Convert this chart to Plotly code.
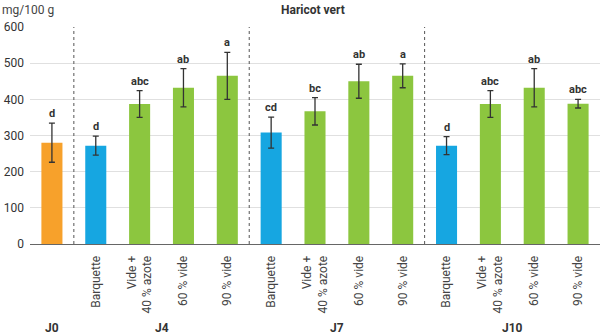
import plotly.graph_objects as go

categories = ["", "Barquette", "Vide +<br>40 % azote", "60 % vide", "90 % vide",
              "Barquette", "Vide +<br>40 % azote", "60 % vide", "90 % vide",
              "Barquette", "Vide +<br>40 % azote", "60 % vide", "90 % vide"]
values = [280, 272, 387, 432, 465, 308, 367, 450, 465, 272, 387, 432, 388]
errors = [54, 26, 37, 53, 65, 43, 38, 47, 33, 25, 37, 53, 12]
letters = ["d", "d", "abc", "ab", "a", "cd", "bc", "ab", "a", "d", "abc", "ab", "abc"]
kinds = ["J0", "B", "G", "G", "G", "B", "G", "G", "G", "B", "G", "G", "G"]
groups = ["J0", "J4", "J7", "J10"]
group_pos = [0, 2.5, 6.5, 10.5]
separators = [0.5, 4.5, 8.5]
yticks = [0, 100, 200, 300, 400, 500, 600]

color_map = {"J0": "#F7A12B", "B": "#16A6E1", "G": "#8CC63F"}
x = list(range(len(values)))

fig = go.Figure()
fig.add_trace(go.Bar(
    x=x, y=values,
    marker=dict(color=[color_map[k] for k in kinds], line=dict(width=0)),
    width=0.48,
    error_y=dict(type="data", array=errors, visible=True, color="#333333",
                 thickness=1.3, width=3),
    showlegend=False,
))

for xi, v, e, l in zip(x, values, errors, letters):
    fig.add_annotation(x=xi, y=v + e, text=f"<b>{l}</b>", showarrow=False,
                       yanchor="bottom", yshift=1,
                       font=dict(family="Roboto", size=11, color="#333333"))

for s in separators:
    fig.add_shape(type="line", x0=s, x1=s, y0=0, y1=600, xref="x", yref="y",
                  line=dict(color="#555555", width=1, dash="3px,3px"))

for g, p in zip(groups, group_pos):
    fig.add_annotation(x=p, y=-0.387, xref="x", yref="paper", text=f"<b>{g}</b>",
                       showarrow=False, yanchor="middle",
                       font=dict(family="Roboto", size=12, color="#333333"))

fig.add_annotation(x=0, y=1, xref="paper", yref="paper", xshift=-30, yshift=8,
                   text="mg/100 g", showarrow=False, xanchor="left", yanchor="bottom",
                   font=dict(family="Roboto", size=12, color="#444444"))
fig.add_annotation(x=313, y=1, xref="x domain", yref="paper", text="<b>Haricot vert</b>",
                   showarrow=False, xanchor="center", yanchor="bottom", yshift=8,
                   font=dict(family="Roboto", size=12, color="#333333"))
fig.layout.annotations[-1].update(xref="paper", x=(313 - 30) / 570)

fig.update_layout(
    width=600, height=335,
    margin=dict(l=30, r=0, t=27, b=91),
    paper_bgcolor="white", plot_bgcolor="white",
    bargap=0.5,
    font=dict(family="Roboto", size=12, color="#444444"),
    xaxis=dict(tickmode="array", tickvals=x, ticktext=categories, tickangle=-90,
               range=[-0.5, 12.5], showgrid=False, showline=True,
               linecolor="#666666", linewidth=1, ticks="", ticklabelstandoff=6,
               tickfont=dict(size=12, color="#444444")),
    yaxis=dict(range=[0, 600], tickvals=yticks, showgrid=True, gridcolor="#E0E0E0",
               gridwidth=1, zeroline=False, showline=False, ticks="",
               ticklabelstandoff=5, tickfont=dict(size=12, color="#333333")),
)

fig.write_html("out.html")
